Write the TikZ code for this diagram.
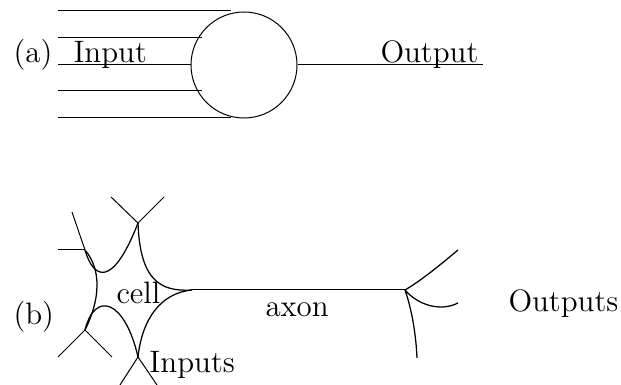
\documentclass[tikz,border=0pt]{standalone}
\begin{document}
\begin{tikzpicture}[x=0.4pt,y=-0.4pt,
  lbl/.style={anchor=base west,inner sep=0pt,font=\fontsize{12.4}{15}\selectfont},
  wire/.style={line width=0.4pt},
  body/.style={line width=0.5pt}]
\useasboundingbox (0,0) rectangle (621,385);

% (a) single unit with five inputs and one output
\node[draw,circle,minimum size=42.4pt,inner sep=0pt] (unit) at (244,65) {};
\coordinate (i1s) at (58,11);  \coordinate (i1e) at (231,11);
\coordinate (i2s) at (58,38);  \coordinate (i2e) at (202,38);
\coordinate (i3s) at (58,65);
\coordinate (i4s) at (58,91);  \coordinate (i4e) at (202,91);
\coordinate (i5s) at (58,118); \coordinate (i5e) at (231,118);
\coordinate (oend) at (483,65);
\draw[wire] (i1s) -- (i1e);
\draw[wire] (i2s) -- (i2e);
\draw[wire] (i3s) -- (unit.west);
\draw[wire] (i4s) -- (i4e);
\draw[wire] (i5s) -- (i5e);
\draw[wire] (unit.east) -- (oend);
\node[lbl] (la) at (13,63) {(a)};
\node[lbl] (lin) at (73,63) {Input};
\node[lbl] (lout) at (380,63) {Output};

% (b) nerve cell: body corners, dendrite tips, axon and terminals
\coordinate (ul) at (85,250);
\coordinate (tp) at (138,223);
\coordinate (ax) at (192,290);
\coordinate (bt) at (138,357);
\coordinate (ll) at (85,330);
\coordinate (ul1) at (72,212);  \coordinate (ul2) at (58,250);
\coordinate (tp1) at (111,197); \coordinate (tp2) at (164,197);
\coordinate (ll1) at (58,357);  \coordinate (ll2) at (112,357);
\coordinate (bt1) at (120,385); \coordinate (bt2) at (157,385);
\coordinate (axe) at (405,290);
\coordinate (o1) at (458,250);
\coordinate (o2) at (458,303);
\coordinate (o3) at (417,358);

\draw[body] (ul) .. controls (93,278) and (112,290) .. (tp);
\draw[body] (tp) .. controls (140,280) and (160,292) .. (ax);
\draw[body] (ax) .. controls (160,293) and (142,320) .. (bt);
\draw[body] (bt) .. controls (125,300) and (95,290) .. (ll);
\draw[body] (ll) .. controls (100,300) and (102,270) .. (ul);

\draw[wire] (ul) -- (ul1);
\draw[wire] (ul) -- (ul2);
\draw[wire] (tp) -- (tp1);
\draw[wire] (tp) -- (tp2);
\draw[wire] (ll) -- (ll1);
\draw[wire] (ll) -- (ll2);
\draw[wire] (bt) -- (bt1);
\draw[wire] (bt) -- (bt2);

\draw[wire] (ax) -- (axe);
\draw[body] (axe) .. controls (422,280) and (440,265) .. (o1);
\draw[body] (axe) .. controls (418,305) and (440,312) .. (o2);
\draw[body] (axe) .. controls (412,310) and (416,335) .. (o3);

\node[lbl] (lb) at (13,325) {(b)};
\node[lbl] (lcell) at (116,304) {cell};
\node[lbl] (laxon) at (265,317) {axon};
\node[lbl] (louts) at (508,312) {Outputs};
\node[lbl] (lins) at (149,373) {Inputs};
\end{tikzpicture}
\end{document}
